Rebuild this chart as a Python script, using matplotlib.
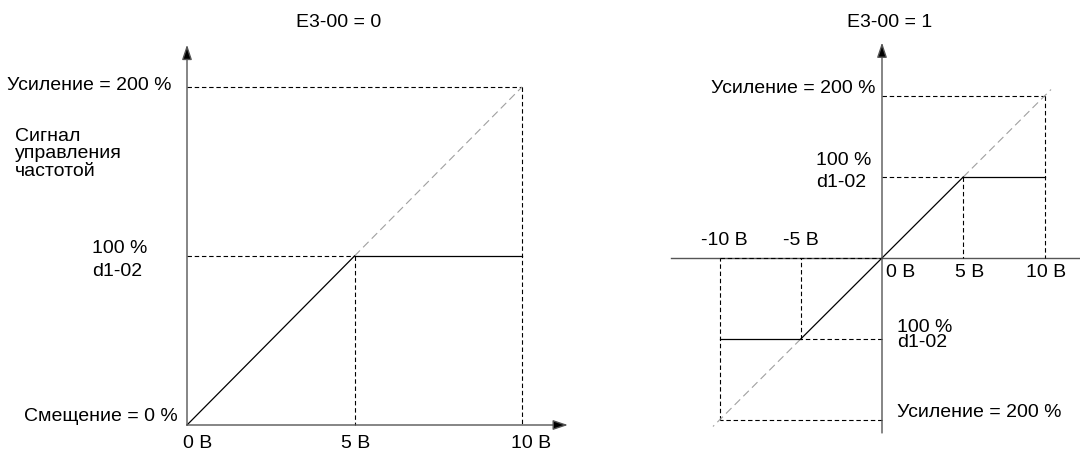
import matplotlib
matplotlib.use("Agg")
import matplotlib.pyplot as plt

plt.rcParams['font.family'] = ['Liberation Sans', 'DejaVu Sans']

# данные: напряжение (В) и сигнал (%)
volts_left = [0, 5, 10]
volts_right = [-10, -5, 0, 5, 10]
bias = 0          # Смещение, %
gain = 200        # Усиление, %
limit = 100       # d1-02, %
diag_ext = 10.4   # насколько продлена пунктирная диагональ справа (В)

AXC = '#555555'
DIAG = '#a0a0a0'
FS = 14

fig = plt.figure(figsize=(10.8, 4.5), dpi=100)

# пиксели -> пределы осей
def make_ax(x0, x1, v0px, pxv, y0px, pxp):
    ax = fig.add_axes([x0 / 1080, 0, (x1 - x0) / 1080, 1])
    ax.set_xlim((x0 - v0px) / pxv, (x1 - v0px) / pxv)
    ax.set_ylim((y0px - 450) / pxp, y0px / pxp)
    ax.axis('off')
    return ax

def arrow(ax, start, end):
    ax.annotate('', xy=end, xytext=start,
                arrowprops=dict(arrowstyle='-|>,head_length=0.45,head_width=0.15',
                                lw=1.0, mutation_scale=20, shrinkA=0, shrinkB=0,
                                ec=AXC, fc='black'))

dash = dict(color='black', lw=0.8, ls=(0, (4, 2.5)))
solid = dict(color='black', lw=0.9)

# ---------- E3-00 = 0 ----------
ax = make_ax(0, 600, 187, 33.5, 425, 1.69)
arrow(ax, (0, 0), (0, 225))
arrow(ax, (0, 0), (11.37, 0))
ax.plot([0, volts_left[2]], [gain, gain], **dash)
ax.plot([volts_left[2], volts_left[2]], [gain, 0], **dash)
ax.plot([0, volts_left[1]], [limit, limit], **dash)
ax.plot([volts_left[1], volts_left[1]], [limit, 0], **dash)
ax.plot([volts_left[1], volts_left[2]], [gain / 2, gain], color=DIAG, lw=0.8, ls=(0, (7, 4)))
ax.plot([volts_left[0], volts_left[1]], [bias, limit], **solid)
ax.plot([volts_left[1], volts_left[2]], [limit, limit], **solid)

ax.text(4.54, 238, 'E3-00 = 0', fontsize=FS, ha='center', va='center')
ax.text(-0.45, 201, 'Усиление = 200 %', fontsize=FS, ha='right', va='center')
ax.text(-5.13, 160.4, 'Сигнал\nуправления\nчастотой', fontsize=FS, ha='left', va='center',
        linespacing=1.02)
ax.text(-2.84, 97.6, '100 %\nd1-02', fontsize=FS, ha='left', va='center', linespacing=1.45)
ax.text(-0.27, 5.3, 'Смещение = 0 %', fontsize=FS, ha='right', va='center')
for v, dx in zip(volts_left, [0.33, 0.04, 0.27]):
    ax.text(v + dx, -10.7, f'{v} В', fontsize=FS, ha='center', va='center')

# ---------- E3-00 = 1 ----------
ax = make_ax(600, 1080, 882, 16.25, 258, 0.81)
ax.plot([-13.0, 13], [0, 0], color=AXC, lw=1.0)
arrow(ax, (0, -216), (0, 266))
vmin, v5n, v0, v5, vmax = volts_right
for s in (1, -1):
    ax.plot([0, s * vmax], [s * gain, s * gain], **dash)
    ax.plot([s * vmax, s * vmax], [s * gain, 0], **dash)
    ax.plot([0, s * v5], [s * limit, s * limit], **dash)
    ax.plot([s * v5, s * v5], [s * limit, 0], **dash)
    ax.plot([s * v5, s * diag_ext], [s * limit, s * diag_ext * 20], color=DIAG, lw=0.8,
            ls=(0, (7, 4)))
    ax.plot([s * v5, s * vmax], [s * limit, s * limit], **solid)
ax.plot([vmin, 0], [0, 0], **dash)
ax.plot([v5n, v5], [-limit, limit], **solid)

ax.text(0.45, 291, 'E3-00 = 1', fontsize=FS, ha='center', va='center')
ax.text(-0.4, 209, 'Усиление = 200 %', fontsize=FS, ha='right', va='center')
ax.text(-4.06, 107, '100 %\nd1-02', fontsize=FS, ha='left', va='center', linespacing=1.4)
ax.text(-9.7, 22, '-10 В', fontsize=FS, ha='center', va='center')
ax.text(-5.0, 22, '-5 В', fontsize=FS, ha='center', va='center')
ax.text(0.25, -18, '0 В', fontsize=FS, ha='left', va='center')
ax.text(5.4, -18, '5 В', fontsize=FS, ha='center', va='center')
ax.text(10.1, -18, '10 В', fontsize=FS, ha='center', va='center')
ax.text(0.95, -95, '100 %\nd1-02', fontsize=FS, ha='left', va='center', linespacing=0.9)
ax.text(0.9, -191, 'Усиление = 200 %', fontsize=FS, ha='left', va='center')

fig.savefig('out.png', dpi=100, facecolor='white')
